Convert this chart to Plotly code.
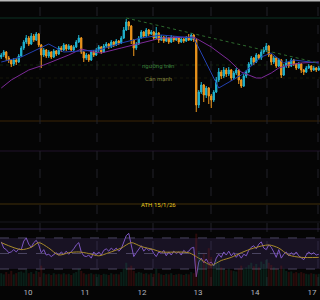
import plotly.graph_objects as go

# ---------------- data ----------------
closes = [165,168,162,160,156,160,158,164,172,178,182,176,184,180,186,175,165,170,164,168,
          163,169,166,172,170,175,171,174,170,173,178,182,168,162,165,160,168,165,170,173,
          168,174,176,173,178,175,179,177,182,190,198,194,180,172,176,182,188,184,190,186,
          188,182,187,180,183,179,182,178,183,180,182,178,181,179,182,180,185,180,115,128,
          135,125,132,124,120,128,140,148,144,150,146,150,142,147,150,140,134,144,148,156,
          162,158,165,162,168,170,174,165,158,162,154,160,145,154,158,154,160,156,152,156,
          150,148,152,154,150,152,150,152]
highs = [167,170,169,164,161,162,162,166,174,180,185,184,187,186,188,187,176,172,171,170,
         169,171,170,174,174,177,176,176,175,175,180,185,183,169,167,166,170,170,172,175,
         174,176,178,177,180,179,181,180,184,193,201,199,195,181,178,184,190,189,192,191,
         190,189,193,188,185,184,184,183,185,184,184,183,183,182,184,186,187,186,181,130,
         138,136,134,133,126,130,143,152,150,153,152,153,151,149,152,151,141,146,150,158,
         164,163,167,166,170,173,177,175,166,164,163,162,161,156,161,159,162,161,157,158,
         157,151,154,156,155,154,153,154]
lows = [161,163,159,157,153,154,155,157,163,170,176,174,175,178,179,173,152,163,162,162,
        161,162,164,165,168,169,169,170,168,169,172,177,166,158,160,158,159,163,164,168,
        166,167,172,171,172,173,174,175,176,181,189,190,176,164,170,175,181,182,183,184,
        185,180,181,177,179,177,178,176,177,178,179,176,177,177,178,179,179,178,108,112,
        126,118,122,116,112,118,127,138,141,142,143,144,139,140,145,136,132,133,142,147,
        154,155,157,160,160,166,168,163,155,156,152,153,142,144,152,152,153,154,150,151,
        147,145,147,151,148,149,148,149]
first_open = 163
volumes = [22,20,24,21,26,20,22,24,25,23,28,22,24,21,26,24,35,22,20,21,
           19,22,20,21,20,22,20,21,19,22,24,30,26,22,20,21,22,20,21,20,
           19,21,20,19,22,20,21,20,24,30,40,32,35,26,22,24,23,21,22,20,
           22,21,30,22,20,19,21,20,22,19,20,21,20,19,21,20,24,22,90,60,
           45,55,40,65,50,38,45,40,32,30,28,30,27,26,25,30,35,30,32,36,
           40,34,38,32,42,38,45,40,36,32,30,28,35,30,26,24,25,22,24,22,
           24,22,21,20,22,21,20,21]
rsi = [65,57,55,51,52,55,52,56,55,66,70,62,58,64,67,61,51,55,48,49,
       46,49,51,48,52,49,53,49,52,56,61,64,52,47,46,48,44,52,48,52,
       48,54,56,53,57,54,57,53,56,65,73,76,60,46,51,56,60,53,57,54,
       56,50,46,52,50,54,47,52,48,53,50,52,48,54,51,53,57,58,20,39,
       44,38,43,37,39,34,44,49,45,52,48,53,47,51,45,49,44,49,47,54,
       58,60,56,62,65,57,55,61,58,52,45,55,44,49,52,47,51,48,52,47,
       44,42,48,52,49,51,48,49]
rsi_ma_idx = [0,8,12,15,19,23,27,31,35,39,43,48,52,56,61,64,75,79,84,88,92,96,101,107,111,115,120,127]
rsi_ma_val = [64,55,58,64,57,48,51,52,50,47,51,57,64,59,55,52,51,44,35,41,45,51,57,61,57,48,45,45]
ma_fast_idx = [0,8,19,25,39,48,56,64,77,87,96,104,108,113,117,127]
ma_fast_val = [158,163,176,168,170,177,182,185,182,132,145,163,167,157,160,157]
ma_slow_idx = [0,4,11,17,27,32,37,40,48,56,64,77,84,91,96,102,104,108,111,115,120,127]
ma_slow_val = [132,140,150,155,165,171,168,167,172,177,182,183,173,160,148,142,142,147,152,155,157,158]
tick_pos = [10.7,33.5,56.3,78.7,101.5,124.3]
tick_text = ["10","11","12","13","14","17"]
levels = {"top": 202, "nguong": 155, "can": 142, "lvl1": 99, "lvl2": 69, "ath": 16}
trend_idx = [50, 127]
trend_val = [202, 157]

n = len(closes)
idx = list(range(n))
opens = [first_open] + closes[:-1]

UP = "#22b8d4"
DN = "#f39a1e"
BG = "#050505"

fig = go.Figure()

vol_colors = ["rgba(20,100,75,0.28)" if c >= o else "rgba(130,25,25,0.30)" for o, c in zip(opens, closes)]
fig.add_trace(go.Bar(x=idx, y=volumes, marker_color=vol_colors, marker_line_width=0,
                     xaxis="x", yaxis="y3", width=0.8, showlegend=False, hoverinfo="skip"))

fig.add_trace(go.Candlestick(x=idx, open=opens, high=highs, low=lows, close=closes,
                             increasing=dict(line=dict(color=UP, width=1), fillcolor=UP),
                             decreasing=dict(line=dict(color=DN, width=1), fillcolor=DN),
                             whiskerwidth=0, xaxis="x", yaxis="y", showlegend=False))
fig.add_trace(go.Scatter(x=ma_slow_idx, y=ma_slow_val, mode="lines", line=dict(color="#7d2a9a", width=1),
                         xaxis="x", yaxis="y", showlegend=False))
fig.add_trace(go.Scatter(x=ma_fast_idx, y=ma_fast_val, mode="lines", line=dict(color="#2340b0", width=1),
                         xaxis="x", yaxis="y", showlegend=False))
fig.add_trace(go.Scatter(x=trend_idx, y=trend_val, mode="lines", line=dict(color="#2e6a2e", width=1, dash="dot"),
                         xaxis="x", yaxis="y", showlegend=False))

fig.add_trace(go.Scatter(x=idx, y=rsi, mode="lines", line=dict(color="#7e57c2", width=1),
                         xaxis="x", yaxis="y2", showlegend=False))
fig.add_trace(go.Scatter(x=rsi_ma_idx, y=rsi_ma_val, mode="lines", line=dict(color="#a88a2a", width=1, shape="spline", smoothing=0.8),
                         xaxis="x", yaxis="y2", showlegend=False))

shapes = []
def hline(yv, color, dash="solid", width=1, yref="y"):
    shapes.append(dict(type="line", xref="paper", x0=0, x1=1, yref=yref, y0=yv, y1=yv,
                       line=dict(color=color, width=width, dash=dash), layer="below"))

hline(levels["top"], "#0c3325")
hline(levels["nguong"], "#15260f", dash="dot")
hline(levels["can"], "#17170b", dash="dot")
hline(levels["lvl1"], "#3a2406")
hline(levels["lvl2"], "#21122b")
hline(levels["ath"], "#43300a")

# vertical session separators
for px in [40, 97, 153, 211, 267, 318]:
    shapes.append(dict(type="line", xref="paper", x0=px/320, x1=px/320, yref="paper", y0=14/300, y1=1,
                       line=dict(color="#22222a", width=1, dash="dash"), layer="below"))

# RSI band
shapes.append(dict(type="rect", xref="paper", x0=0, x1=1, yref="y2", y0=30, y1=70,
                   fillcolor="rgba(126,87,194,0.16)", line=dict(width=0), layer="below"))
for lv in [70, 50, 30]:
    shapes.append(dict(type="line", xref="paper", x0=0, x1=1, yref="y2", y0=lv, y1=lv,
                       line=dict(color="#4a4460", width=1, dash="dash"), layer="below"))
# panel separators
shapes.append(dict(type="line", xref="paper", x0=0, x1=1, yref="paper", y0=1-222/300, y1=1-222/300,
                   line=dict(color="#18181e", width=1)))
shapes.append(dict(type="line", xref="paper", x0=0, x1=1, yref="paper", y0=1-229/300, y1=1-229/300,
                   line=dict(color="#2e2248", width=1)))
# top frame line
shapes.append(dict(type="line", xref="paper", x0=0, x1=1, yref="paper", y0=0.998, y1=0.998,
                   line=dict(color="#b8b8b8", width=2)))

annotations = [
    dict(text="ngưỡng trên", x=158/320, xref="paper", y=levels["nguong"], yref="y", showarrow=False,
         font=dict(size=6, color="#3a7e3a", family="Roboto")),
    dict(text="Cản mạnh", x=158/320, xref="paper", y=levels["can"], yref="y", showarrow=False,
         font=dict(size=6, color="#7e7e3a", family="Roboto")),
    dict(text="ATH 15/1/26", x=158/320, xref="paper", y=levels["ath"], yref="y", showarrow=False,
         font=dict(size=6, color="#e8c820", family="Roboto")),
]

fig.update_layout(
    width=320, height=300, margin=dict(l=0, r=0, t=0, b=0),
    paper_bgcolor=BG, plot_bgcolor=BG,
    shapes=shapes, annotations=annotations,
    xaxis=dict(range=[-0.5, n - 0.5], anchor="y2", rangeslider=dict(visible=False),
               showgrid=False, zeroline=False, showline=False,
               tickmode="array", tickvals=tick_pos, ticktext=tick_text,
               tickfont=dict(size=8, color="#b2b5be", family="Roboto"), ticks="", ticklabelstandoff=0),
    yaxis=dict(domain=[1 - 218/300, 1], range=[2, 220], visible=False, showgrid=False),
    yaxis2=dict(domain=[14/300, 1 - 222/300], range=[8.1, 90.6], visible=False, showgrid=False),
    yaxis3=dict(overlaying="y2", range=[0, 110], visible=False, showgrid=False),
    showlegend=False, bargap=0.2,
)

fig.write_html("out.html")
